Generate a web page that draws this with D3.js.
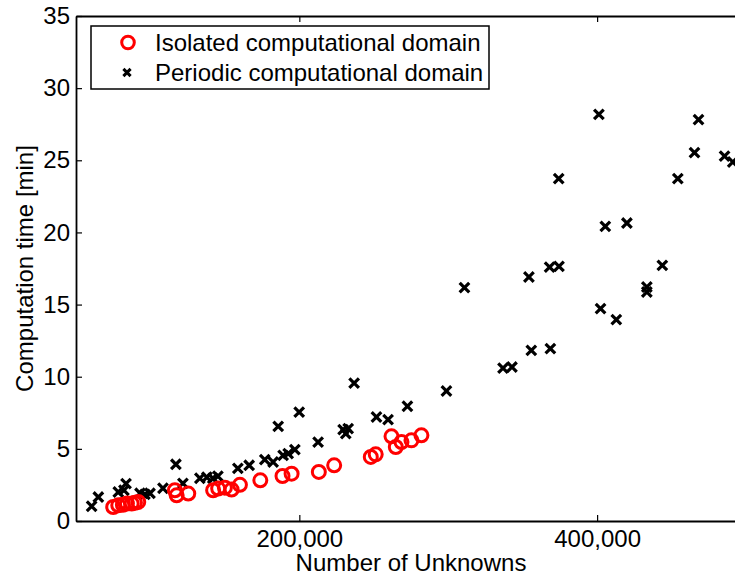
<!DOCTYPE html>
<html>
<head>
<meta charset="utf-8">
<script src="https://cdn.jsdelivr.net/npm/d3@7"></script>
<style>
  body { margin: 0; background: #fff; }
  svg text { font-family: "Liberation Sans", Arial, Helvetica, sans-serif; fill: #000; }
</style>
</head>
<body>
<svg id="chart" width="735" height="578"></svg>
<script>
// Computation time versus problem size for two kinds of computational domain
const isolatedUnknowns = [75000, 78400, 81500, 84200, 87400, 89600, 91800, 116400, 117600, 125400,
  142100, 145500, 150000, 154500, 160100, 173800, 188700, 194800, 213100, 223400,
  248000, 251300, 261900, 264800, 268600, 275300, 282000];
const isolatedTime = [0.97, 1.09, 1.12, 1.21, 1.21, 1.26, 1.32, 2.13, 1.78, 1.90,
  2.13, 2.25, 2.31, 2.18, 2.51, 2.82, 3.12, 3.28, 3.40, 3.86,
  4.44, 4.62, 5.87, 5.13, 5.47, 5.59, 5.94];

const periodicUnknowns = [60500, 65000, 78400, 82200, 83600, 93000, 96300, 99700, 108400, 117100,
  121800, 133200, 137900, 141900, 145300, 158700, 166300, 176800, 182400, 185800,
  189100, 192500, 197000, 199900, 212600, 229400, 232800, 231200, 236800, 251800,
  259600, 272600, 298800, 310900, 336800, 342800, 354200, 355800, 368100, 374400,
  368600, 374200, 401200, 402300, 405500, 412900, 420000, 433400, 433400, 443800,
  454200, 465400, 468100, 485600, 491100];
const periodicTime = [1.02, 1.66, 2.01, 2.13, 2.59, 1.92, 1.85, 1.92, 2.27, 3.93,
  2.61, 2.96, 3.03, 2.96, 3.10, 3.65, 3.86, 4.25, 4.09, 6.56,
  4.55, 4.67, 4.95, 7.55, 5.47, 6.33, 6.40, 6.06, 9.56, 7.21,
  7.03, 7.95, 9.01, 16.17, 10.60, 10.67, 16.91, 11.83, 17.60, 17.65,
  11.95, 23.73, 28.18, 14.72, 20.42, 13.96, 20.65, 16.22, 15.87, 17.72,
  23.73, 25.53, 27.82, 25.29, 24.88];

const seriesNames = ["Isolated computational domain", "Periodic computational domain"];
const xTicks = [200000, 400000];
const yTicks = [0, 5, 10, 15, 20, 25, 30, 35];
const xTitle = "Number of Unknowns";
const yTitle = "Computation time [min]";

const FONT = 24;
const svg = d3.select("#chart");
svg.append("rect").attr("width", 735).attr("height", 578).attr("fill", "#fff");

const plotL = 76, plotR = 746, plotT = 16, plotB = 521;
const x = d3.scaleLinear().domain([50000, 500000]).range([plotL, plotR]);
const y = d3.scaleLinear().domain([0, 35]).range([plotB, plotT]);
const fmt = d3.format(",");

// axes with inward ticks on all four sides (box on)
function styleAxis(g) {
  g.selectAll("path.domain").attr("stroke", "#000").attr("stroke-width", 1.8);
  g.selectAll(".tick line").attr("stroke", "#000").attr("stroke-width", 1.2);
  g.selectAll("text").attr("font-size", FONT).attr("font-family", null).attr("fill", "#000");
}
svg.append("g").attr("transform", `translate(0,${plotB})`)
  .call(d3.axisBottom(x).tickValues(xTicks).tickFormat(fmt).tickSize(-6).tickSizeOuter(0).tickPadding(9))
  .call(styleAxis);
svg.append("g").attr("transform", `translate(0,${plotT})`)
  .call(d3.axisTop(x).tickValues(xTicks).tickFormat("").tickSize(-6).tickSizeOuter(0))
  .call(styleAxis);
svg.append("g").attr("transform", `translate(${plotL},0)`)
  .call(d3.axisLeft(y).tickValues(yTicks).tickSize(-6).tickSizeOuter(0).tickPadding(6))
  .call(styleAxis);
svg.append("g").attr("transform", `translate(${plotR},0)`)
  .call(d3.axisRight(y).tickValues(yTicks).tickFormat("").tickSize(-6).tickSizeOuter(0))
  .call(styleAxis);

// axis titles
svg.append("text").attr("x", (plotL + plotR) / 2).attr("y", 571)
  .attr("text-anchor", "middle").attr("font-size", FONT).text(xTitle);
svg.append("text").attr("transform", `translate(33,${(plotT + plotB) / 2}) rotate(-90)`)
  .attr("text-anchor", "middle").attr("font-size", FONT).text(yTitle);

// markers
const crossPath = (s) => `M${-s},${-s}L${s},${s}M${-s},${s}L${s},${-s}`;
const periodic = periodicUnknowns.map((u, i) => ({ u, t: periodicTime[i] }));
const isolated = isolatedUnknowns.map((u, i) => ({ u, t: isolatedTime[i] }));

svg.append("g").selectAll("path").data(periodic).join("path")
  .attr("transform", d => `translate(${x(d.u)},${y(d.t)})`)
  .attr("d", crossPath(4.8))
  .attr("stroke", "#000").attr("stroke-width", 3.2).attr("fill", "none");

svg.append("g").selectAll("circle").data(isolated).join("circle")
  .attr("cx", d => x(d.u)).attr("cy", d => y(d.t)).attr("r", 6.5)
  .attr("fill", "none").attr("stroke", "#ff0000").attr("stroke-width", 3);

// legend
const lg = svg.append("g");
lg.append("rect").attr("x", 91).attr("y", 26).attr("width", 398).attr("height", 63)
  .attr("fill", "#fff").attr("stroke", "#000").attr("stroke-width", 1.5);
lg.append("circle").attr("cx", 128).attr("cy", 42.5).attr("r", 6.3)
  .attr("fill", "none").attr("stroke", "#ff0000").attr("stroke-width", 3);
lg.append("path").attr("transform", "translate(127,72.5)").attr("d", crossPath(3.6))
  .attr("stroke", "#000").attr("stroke-width", 3).attr("fill", "none");
lg.append("text").attr("x", 155).attr("y", 51).attr("font-size", FONT).text(seriesNames[0]);
lg.append("text").attr("x", 155).attr("y", 81).attr("font-size", FONT).text(seriesNames[1]);
</script>
</body>
</html>
